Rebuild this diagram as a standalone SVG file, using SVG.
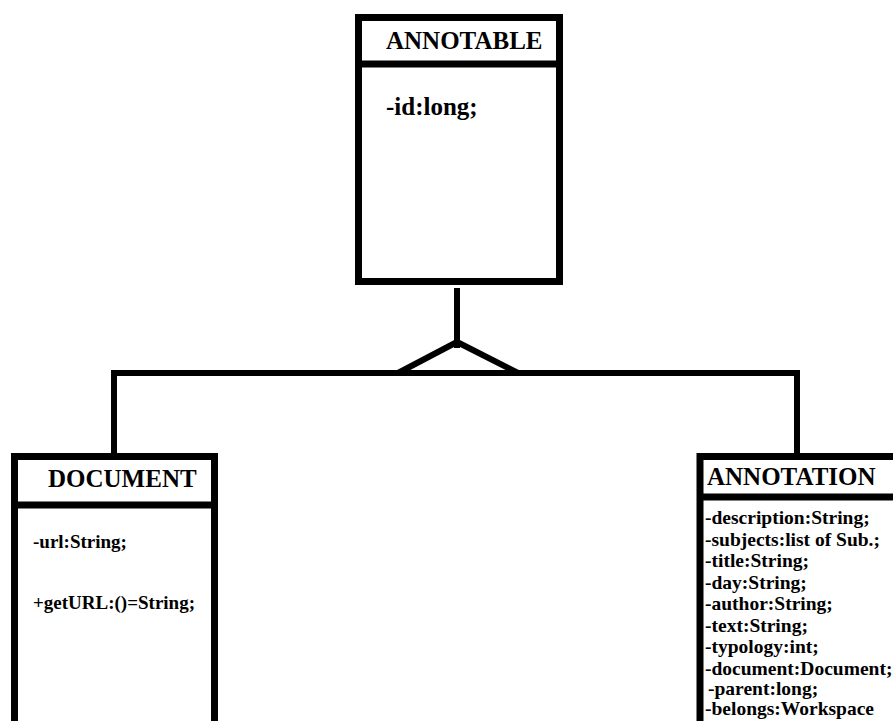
<svg xmlns="http://www.w3.org/2000/svg" width="893" height="721" viewBox="0 0 893 721">
<style>
.box{fill:#fff;stroke:#000;stroke-width:7}
.ln{fill:none;stroke:#000;stroke-width:7}
.conn{fill:none;stroke:#000;stroke-width:6;stroke-linejoin:miter}
text{font-family:"Liberation Serif","Times New Roman",serif;font-weight:bold;fill:#000}
.h{font-size:25px}
.a{font-size:19px}
.s{font-size:19.5px}
</style>
<rect width="893" height="721" fill="#fff"/>
<g id="connectors">
<line class="conn" x1="457" y1="288" x2="457" y2="348"/>
<polygon class="conn" points="457,342 398,373 518,373"/>
<polyline class="conn" points="114,453 114,373 797,373 797,453"/>
</g>
<g id="annotable">
<rect class="box" x="358.5" y="17.5" width="201" height="264"/>
<line class="ln" x1="358.5" y1="64" x2="559.5" y2="64"/>
<text class="h" x="386" y="49">ANNOTABLE</text>
<text class="h" x="386" y="115">-id:long;</text>
</g>
<g id="document">
<rect class="box" x="14.5" y="456.5" width="200" height="268"/>
<line class="ln" x1="14.5" y1="505" x2="214.5" y2="505"/>
<text class="h" x="48" y="487">DOCUMENT</text>
<text class="a" x="33" y="548">-url:String;</text>
<text class="a" x="33" y="609">+getURL:()=String;</text>
</g>
<g id="annotation">
<rect class="box" x="700" y="456.5" width="210" height="268"/>
<line class="ln" x1="700" y1="497" x2="910" y2="497"/>
<text class="h" x="707" y="485">ANNOTATION</text>
<text class="s" x="705" y="524">-description:String;</text>
<text class="s" x="705" y="545.5">-subjects:list of Sub.;</text>
<text class="s" x="705" y="567">-title:String;</text>
<text class="s" x="705" y="588.5">-day:String;</text>
<text class="s" x="705" y="610">-author:String;</text>
<text class="s" x="705" y="631.5">-text:String;</text>
<text class="s" x="705" y="653">-typology:int;</text>
<text class="s" x="705" y="674.5">-document:Document;</text>
<text class="s" x="708" y="694.5">-parent:long;</text>
<text class="s" x="705" y="715">-belongs:Workspace</text>
</g>
</svg>
